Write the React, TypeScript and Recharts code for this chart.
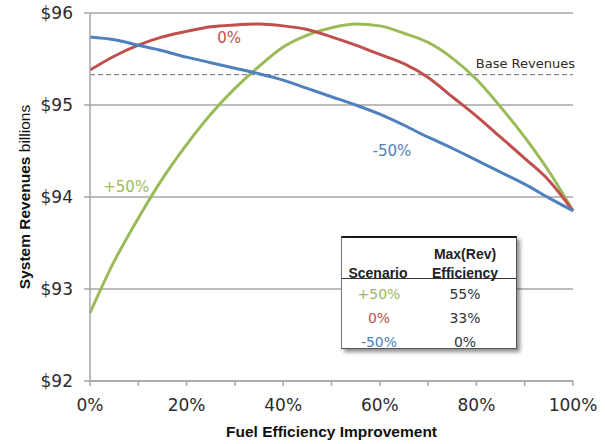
import React from 'react';
import { LineChart, Line, XAxis, YAxis, CartesianGrid, ReferenceLine, ReferenceDot, Label } from 'recharts';

const efficiency = [0, 5, 10, 15, 20, 25, 30, 35, 40, 45, 50, 55, 60, 65, 70, 75, 80, 85, 90, 95, 100];
const plus50 = [92.74, 93.3, 93.77, 94.2, 94.57, 94.9, 95.18, 95.42, 95.63, 95.76, 95.84, 95.88, 95.86, 95.78, 95.68, 95.51, 95.28, 94.98, 94.65, 94.28, 93.85];
const zero = [95.38, 95.53, 95.65, 95.74, 95.8, 95.85, 95.87, 95.88, 95.86, 95.82, 95.74, 95.65, 95.55, 95.45, 95.3, 95.09, 94.88, 94.65, 94.42, 94.18, 93.85];
const minus50 = [95.74, 95.71, 95.65, 95.59, 95.52, 95.46, 95.4, 95.34, 95.27, 95.18, 95.09, 95.0, 94.9, 94.78, 94.65, 94.53, 94.4, 94.27, 94.14, 93.99, 93.85];
const baseRevenue = 95.33;
const xTicks = [0, 10, 20, 30, 40, 50, 60, 70, 80, 90, 100];
const yTicks = [92, 93, 94, 95, 96];
const scenarios = ['+50%', '0%', '-50%'];
const maxRevEfficiency = ['55%', '33%', '0%'];
const seriesColors = ['#9BBB59', '#C0504D', '#4F81BD'];
const seriesKeys = ['plus50', 'zero', 'minus50'];
const seriesLabelPos = [
  { x: 7.5, y: 94.11 },
  { x: 28.8, y: 95.73 },
  { x: 62.5, y: 94.5 },
];

const data = efficiency.map((e, i) => ({
  eff: e,
  plus50: plus50[i],
  zero: zero[i],
  minus50: minus50[i],
}));

const GRID = '#A6A6A6';
const TEXT = '#2b2b2b';
const NUMFONT = '"DejaVu Sans", sans-serif';
const HEADFONT = '"Liberation Sans", Arial, sans-serif';

const XTick = (props: any) => {
  const { x, y, payload } = props;
  if (payload.value % 20 !== 0) return null;
  return (
    <text x={x} y={y} dy="0.71em" textAnchor="middle" fill={TEXT} fontFamily={NUMFONT} fontSize={17}>
      {payload.value + '%'}
    </text>
  );
};

const YTick = (props: any) => {
  const { x, y, payload } = props;
  return (
    <text x={x} y={y} dy="0.355em" textAnchor="end" fill={TEXT} fontFamily={NUMFONT} fontSize={17}>
      {'$' + payload.value}
    </text>
  );
};

const YLabel = (props: any) => {
  const vb = props.viewBox || { x: 20, y: 13, width: 70, height: 368 };
  const cx = 24;
  const cy = vb.y + vb.height / 2;
  return (
    <text
      x={cx}
      y={cy}
      transform={`rotate(-90, ${cx}, ${cy})`}
      textAnchor="middle"
      dominantBaseline="central"
      fill="#111"
      fontFamily={HEADFONT}
      fontSize={15.5}
    >
      <tspan fontWeight="bold">System Revenues</tspan>
      <tspan> billions</tspan>
    </text>
  );
};

const BaseLabel = (props: any) => {
  const vb = props.viewBox;
  return (
    <text x={vb.x + vb.width + 2} y={vb.y - 7} textAnchor="end" fill={TEXT} fontFamily={NUMFONT} fontSize={13}>
      Base Revenues
    </text>
  );
};

export default function App() {
  const boxLeft = 341;
  const boxTop = 236;
  return (
    <div style={{ position: 'absolute', left: 0, top: 0, width: 605, height: 444, background: '#fff' }}>
      <LineChart width={605} height={444} data={data} margin={{ top: 13, right: 32, bottom: 23, left: 20 }}>
        <CartesianGrid vertical={false} stroke={GRID} strokeWidth={1.5} />
        <XAxis
          dataKey="eff"
          type="number"
          domain={[0, 100]}
          ticks={xTicks}
          interval={0}
          height={40}
          tick={<XTick />}
          tickSize={5}
          tickMargin={13}
          stroke={GRID}
          strokeWidth={1.5}
        >
          <Label
            value="Fuel Efficiency Improvement"
            position="bottom"
            offset={5}
            fill="#111"
            fontFamily={HEADFONT}
            fontWeight="bold"
            fontSize={15.5}
          />
        </XAxis>
        <YAxis
          type="number"
          domain={[92, 96]}
          ticks={yTicks}
          width={70}
          tick={<YTick />}
          tickSize={6}
          tickMargin={11}
          stroke={GRID}
          strokeWidth={1.5}
        >
          <Label content={<YLabel />} />
        </YAxis>
        <ReferenceLine y={baseRevenue} stroke="#8a8a8a" strokeWidth={1.3} strokeDasharray="5 3" label={<BaseLabel />} />
        {seriesKeys.map((k, i) => (
          <Line
            key={k}
            dataKey={k}
            type="monotone"
            stroke={seriesColors[i]}
            strokeWidth={3}
            dot={false}
            isAnimationActive={false}
          />
        ))}
        {scenarios.map((s, i) => (
          <ReferenceDot
            key={s}
            x={seriesLabelPos[i].x}
            y={seriesLabelPos[i].y}
            r={1}
            fill="none"
            stroke="none"
            label={{ value: s, fill: seriesColors[i], fontFamily: NUMFONT, fontSize: 15, position: 'center' }}
          />
        ))}
      </LineChart>
      <div
        style={{
          position: 'absolute',
          left: boxLeft,
          top: boxTop,
          width: 174,
          height: 110,
          background: '#fff',
          borderTop: '2px solid #1a1a1a',
          borderLeft: '1px solid #777',
          borderRight: '1px solid #555',
          borderBottom: '1px solid #555',
          boxShadow: '3px 3px 4px rgba(0,0,0,0.45)',
        }}
      >
        <div
          style={{
            position: 'absolute',
            left: 0,
            top: 0,
            width: 174,
            height: 40,
            borderBottom: '1.5px solid #333',
            fontFamily: HEADFONT,
            fontWeight: 'bold',
            fontSize: 14,
            color: '#222',
          }}
        >
          <div style={{ position: 'absolute', left: 0, width: 72, top: 26, lineHeight: '19px', textAlign: 'center' }}>Scenario</div>
          <div style={{ position: 'absolute', left: 72, width: 102, top: 7, lineHeight: '19px', textAlign: 'center' }}>
            Max(Rev)
            <br />
            Efficiency
          </div>
        </div>
        {scenarios.map((s, i) => (
          <React.Fragment key={s}>
            <div
              style={{
                position: 'absolute',
                left: 0,
                width: 74,
                top: 44 + 24 * i,
                lineHeight: '24px',
                textAlign: 'center',
                fontFamily: NUMFONT,
                fontSize: 14,
                color: seriesColors[i],
              }}
            >
              {s}
            </div>
            <div
              style={{
                position: 'absolute',
                left: 72,
                width: 102,
                top: 44 + 24 * i,
                lineHeight: '24px',
                textAlign: 'center',
                fontFamily: NUMFONT,
                fontSize: 14,
                color: '#333',
              }}
            >
              {maxRevEfficiency[i]}
            </div>
          </React.Fragment>
        ))}
      </div>
    </div>
  );
}
